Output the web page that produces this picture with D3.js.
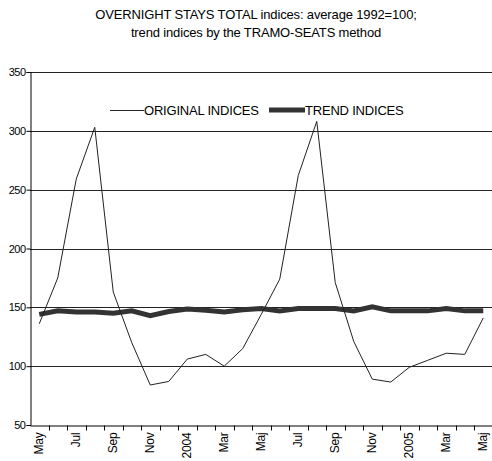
<!DOCTYPE html>
<html>
<head>
<meta charset="utf-8">
<script src="https://cdn.jsdelivr.net/npm/d3@7"></script>
<style>
    body { margin: 0; background: #fff; }
    text { font-family: "Liberation Sans", Arial, sans-serif; fill: #000; }
</style>
</head>
<body>
<div id="chart"></div>
<script>
// months along x axis, May 2003 - May 2005
const months = ['May','Jun','Jul','Aug','Sep','Oct','Nov','Dec','2004','Feb','Mar','Apr','Maj',
    'Jun','Jul','Aug','Sep','Oct','Nov','Dec','2005','Feb','Mar','Apr','Maj'];

// original indices (average 1992=100)
const original = [136, 175, 259, 303, 163, 120, 84, 87, 106, 110, 100, 115, 144,
    174, 262, 308, 171, 121, 89, 86.5, 99, 105, 111, 110, 141];

// trend indices (TRAMO-SEATS)
const trend = [144, 147, 146, 146, 145, 147, 143, 146.5, 148.5, 147.5, 146, 148, 149,
    147, 149, 149, 149, 147, 150.5, 147, 147, 147, 149, 147, 147];

const yTicks = [50, 100, 150, 200, 250, 300, 350];

const titleLines = ['OVERNIGHT STAYS TOTAL indices: average 1992=100;',
    'trend indices by the TRAMO-SEATS method'];

// layout
const width = 492, height = 461;
const margin = {t:72, r:0, b:36, l:30};
const plotRight = 492.5;

const svg = d3.select('#chart')
    .append('svg')
    .attr('width', width)
    .attr('height', height);

// scales
const scaleX = d3.scaleBand()
    .domain(d3.range(months.length))
    .range([margin.l, plotRight])
    .padding(0);

const scaleY = d3.scaleLinear()
    .domain([50, 350])
    .range([height - margin.b, margin.t]);

// title
svg.append('g')
    .selectAll('text')
    .data(titleLines)
    .join('text')
    .attr('x', 256)
    .attr('y', (d, i) => 19 + i * 18)
    .attr('text-anchor', 'middle')
    .attr('font-size', 13)
    .attr('letter-spacing', -0.15)
    .text(d => d);

// gridlines
svg.append('g')
    .selectAll('line')
    .data(yTicks.slice(1))
    .join('line')
    .attr('x1', margin.l)
    .attr('x2', width)
    .attr('y1', d => Math.round(scaleY(d)) + 0.5)
    .attr('y2', d => Math.round(scaleY(d)) + 0.5)
    .attr('stroke', '#222')
    .attr('stroke-width', 1);

// y axis
const axisY = d3.axisLeft(scaleY)
    .tickValues(yTicks)
    .tickSize(4)
    .tickPadding(1);

const axisYNode = svg.append('g')
    .attr('transform', `translate(${margin.l + 0.5},0)`)
    .call(axisY);
axisYNode.select('.domain').attr('stroke', '#000');
axisYNode.selectAll('text')
    .attr('font-size', 11)
    .attr('letter-spacing', -0.5)
    .attr('font-family', '"Liberation Sans", Arial, sans-serif');

// x axis: labels every other month
const axisX = d3.axisBottom(scaleX)
    .tickSize(0)
    .tickFormat(i => i % 2 === 0 ? months[i] : '');

const axisXNode = svg.append('g')
    .attr('transform', `translate(0,${Math.round(scaleY(50)) + 0.5})`)
    .call(axisX);
axisXNode.select('.domain').attr('stroke', '#000');
axisXNode.selectAll('text')
    .attr('font-size', 12)
    .attr('letter-spacing', -0.2)
    .attr('font-family', '"Liberation Sans", Arial, sans-serif')
    .attr('text-anchor', 'end')
    .attr('transform', 'rotate(-90)')
    .attr('x', -7)
    .attr('y', 0)
    .attr('dy', '0.35em');

// boundary ticks between months
axisXNode.append('g')
    .selectAll('line')
    .data(d3.range(1, months.length + 1))
    .join('line')
    .attr('x1', i => Math.round(scaleX(i) ?? plotRight) + 0.5)
    .attr('x2', i => Math.round(scaleX(i) ?? plotRight) + 0.5)
    .attr('y1', 0)
    .attr('y2', 5)
    .attr('stroke', '#000');

const cx = i => scaleX(i) + scaleX.bandwidth() / 2;

// trend line
const line = d3.line()
    .x((d, i) => cx(i))
    .y(d => scaleY(d));

svg.append('path')
    .datum(trend)
    .attr('fill', 'none')
    .attr('stroke', '#333')
    .attr('stroke-width', 5)
    .attr('d', line);

// original line
svg.append('path')
    .datum(original)
    .attr('fill', 'none')
    .attr('stroke', '#222')
    .attr('stroke-width', 1)
    .attr('d', line);

// legend
const legend = svg.append('g');
legend.append('line')
    .attr('x1', 110).attr('x2', 144)
    .attr('y1', 110.5).attr('y2', 110.5)
    .attr('stroke', '#222')
    .attr('stroke-width', 1);
legend.append('text')
    .attr('x', 144).attr('y', 115)
    .attr('font-size', 13)
    .attr('letter-spacing', -0.2)
    .text('ORIGINAL INDICES');
legend.append('line')
    .attr('x1', 269).attr('x2', 305)
    .attr('y1', 110).attr('y2', 110)
    .attr('stroke', '#333')
    .attr('stroke-width', 5);
legend.append('text')
    .attr('x', 305).attr('y', 115)
    .attr('font-size', 13)
    .attr('letter-spacing', -0.2)
    .text('TREND INDICES');
</script>
</body>
</html>
